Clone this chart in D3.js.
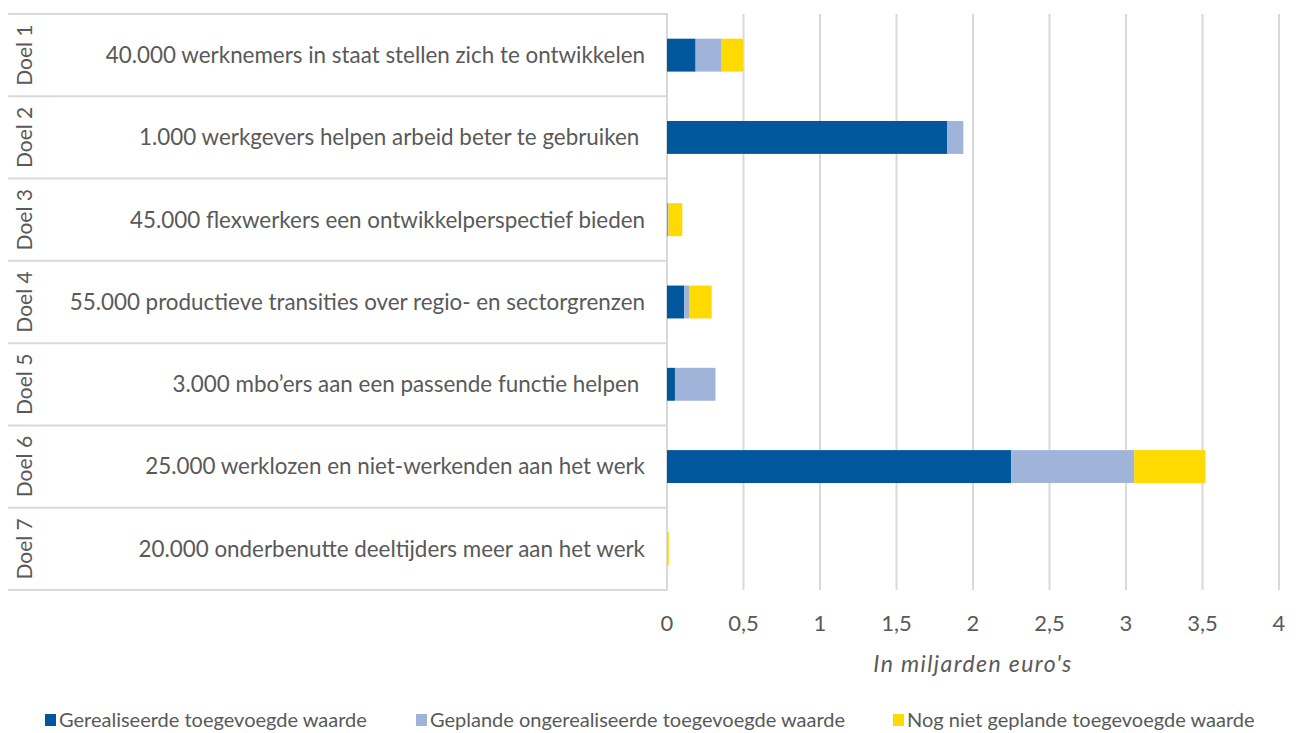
<!DOCTYPE html>
<html>
<head>
<meta charset="utf-8">
<script src="https://cdn.jsdelivr.net/npm/d3@7"></script>
<style>
  body { margin: 0; background: #fff; }
  svg text { font-family: Lato, "Open Sans", sans-serif; fill: #595959; }
</style>
</head>
<body>
<div id="chart"></div>
<script>
const goals = ["Doel 1", "Doel 2", "Doel 3", "Doel 4", "Doel 5", "Doel 6", "Doel 7"];
const goalLabels = [
    "40.000 werknemers in staat stellen zich te ontwikkelen",
    "1.000 werkgevers helpen arbeid beter te gebruiken ",
    "45.000 flexwerkers een ontwikkelperspectief bieden",
    "55.000 productieve transities over regio- en sectorgrenzen",
    "3.000 mbo\u2019ers aan een passende functie helpen ",
    "25.000 werklozen en niet-werkenden aan het werk",
    "20.000 onderbenutte deeltijders meer aan het werk"
];
const seriesNames = [
    "Gerealiseerde toegevoegde waarde",
    "Geplande ongerealiseerde toegevoegde waarde",
    "Nog niet geplande toegevoegde waarde"
];
// in miljarden euro's
const realised   = [0.187, 1.83, 0.004, 0.113, 0.052, 2.25, 0];
const planned    = [0.166, 0.107, 0.006, 0.035, 0.265, 0.804, 0];
const unplanned  = [0.144, 0, 0.09, 0.144, 0, 0.465, 0.012];
const xTicks = [0, 0.5, 1, 1.5, 2, 2.5, 3, 3.5, 4];
const colors = ["#01579b", "#a0b3d9", "#ffda00"];

const width = 1296, height = 733;
const plotTop = 14, plotBottom = 590;
const tableLeft = 8;

const svg = d3.select("#chart").append("svg")
    .attr("width", width)
    .attr("height", height);

const x = d3.scaleLinear().domain([0, 4]).range([667, 1279]);
const rows = d3.scaleBand().domain(goals).range([plotTop, plotBottom]);
const bars = d3.scaleBand().domain(goals).range([plotTop, plotBottom])
    .paddingInner(0.6).paddingOuter(0.3);

// gridlines
svg.append("g")
    .selectAll("line")
    .data(xTicks.slice(1))
    .join("line")
    .attr("x1", d => x(d)).attr("x2", d => x(d))
    .attr("y1", plotTop).attr("y2", plotBottom)
    .attr("stroke", "#d9d9d9")
    .attr("stroke-width", 2);

// table lines on the left
svg.append("g")
    .selectAll("line")
    .data(goals.map(g => rows(g)).concat([plotBottom]))
    .join("line")
    .attr("x1", tableLeft).attr("x2", x(0))
    .attr("y1", d => d).attr("y2", d => d)
    .attr("stroke", "#d9d9d9")
    .attr("stroke-width", 2);
svg.append("line")
    .attr("x1", x(0)).attr("x2", x(0))
    .attr("y1", plotTop - 1).attr("y2", plotBottom + 1)
    .attr("stroke", "#d9d9d9")
    .attr("stroke-width", 2);

// stacked bars
const table = goals.map((g, i) => ({goal: g, s0: realised[i], s1: planned[i], s2: unplanned[i]}));
const stack = d3.stack().keys(["s0", "s1", "s2"])(table);
svg.append("g")
    .selectAll("g")
    .data(stack)
    .join("g")
    .attr("fill", (d, i) => colors[i])
    .selectAll("rect")
    .data(d => d)
    .join("rect")
    .attr("x", d => x(d[0]))
    .attr("width", d => x(d[1]) - x(d[0]))
    .attr("y", d => bars(d.data.goal))
    .attr("height", bars.bandwidth());

// goal names (rotated) and descriptions
svg.append("g")
    .selectAll("text")
    .data(goals)
    .join("text")
    .attr("transform", d => "translate(32," + (rows(d) + rows.bandwidth() / 2) + ") rotate(-90)")
    .attr("text-anchor", "middle")
    .style("font-size", "21px")
    .text(d => d);

svg.append("g")
    .selectAll("text")
    .data(goalLabels)
    .join("text")
    .attr("x", 645)
    .attr("y", (d, i) => rows(goals[i]) + rows.bandwidth() / 2)
    .attr("dy", "0.35em")
    .attr("text-anchor", "end")
    .attr("xml:space", "preserve")
    .style("white-space", "pre")
    .style("font-size", "22.4px")
    .text(d => d);

// x axis labels
svg.append("g")
    .selectAll("text")
    .data(xTicks)
    .join("text")
    .attr("x", d => x(d))
    .attr("y", 623)
    .attr("dy", "0.35em")
    .attr("text-anchor", "middle")
    .style("font-size", "22px")
    .text(d => String(d).replace(".", ","));

svg.append("text")
    .attr("x", (x(0) + x(4)) / 2)
    .attr("y", 664)
    .attr("dy", "0.35em")
    .attr("text-anchor", "middle")
    .style("font-size", "23px")
    .style("letter-spacing", "1.4px")
    .style("font-style", "italic")
    .text("In miljarden euro's");

// legend
const legendX = [45, 416, 893];
const legend = svg.append("g")
    .selectAll("g")
    .data(seriesNames)
    .join("g")
    .attr("transform", (d, i) => "translate(" + legendX[i] + ",720)");
legend.append("rect")
    .attr("x", 0).attr("y", -6)
    .attr("width", 11).attr("height", 12)
    .attr("fill", (d, i) => colors[i]);
legend.append("text")
    .attr("x", 14)
    .attr("dy", "0.35em")
    .style("font-size", "20px")
    .text(d => d);
</script>
</body>
</html>
